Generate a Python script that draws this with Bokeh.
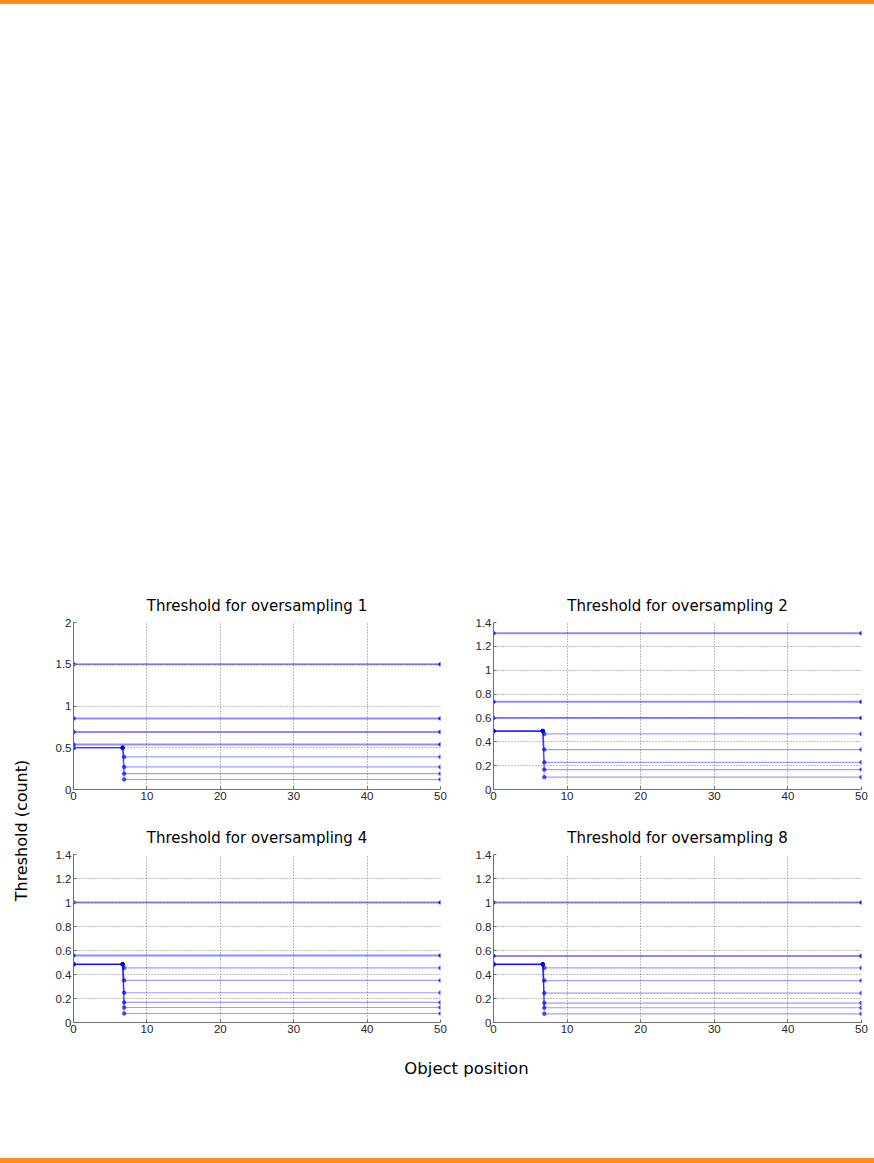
from bokeh.plotting import figure
from bokeh.models import Range1d, FixedTicker, Spacer, Label, Div
from bokeh.layouts import column, row
from bokeh.embed import file_html
from bokeh.resources import INLINE

# ---------------- data ----------------
titles = ["Threshold for oversampling 1", "Threshold for oversampling 2",
          "Threshold for oversampling 4", "Threshold for oversampling 8"]

x_first = 0
x_step_hi = 6.7
x_step_lo = 6.9
x_last = 50

# flat thresholds (constant from x=0 to x=50)
flat_1 = [1.5, 0.85, 0.69, 0.54]
flat_2 = [1.31, 0.735, 0.60]
flat_4 = [1.0, 0.558]
flat_8 = [1.0, 0.555]

# stepped thresholds: start level, then drop to low levels after x~7
step_top_1 = 0.50
step_low_1 = [0.39, 0.27, 0.19, 0.12]
step_top_2 = 0.49
step_low_2 = [0.466, 0.335, 0.228, 0.167, 0.103]
step_top_4 = 0.485
step_low_4 = [0.455, 0.351, 0.248, 0.167, 0.125, 0.075]
step_top_8 = 0.485
step_low_8 = [0.455, 0.349, 0.245, 0.162, 0.123, 0.072]

x_ticks = [0, 10, 20, 30, 40, 50]
y_ticks_a = [0, 0.5, 1, 1.5, 2]
y_labels_a = ["0", "0.5", "1", "1.5", "2"]
y_ticks_b = [0, 0.2, 0.4, 0.6, 0.8, 1, 1.2, 1.4]
y_labels_b = ["0", "0.2", "0.4", "0.6", "0.8", "1", "1.2", "1.4"]

LINE_COLOR = "#0000ff"
ORANGE = "#fd8b18"
TICK_FONT = "Liberation Sans"
TEXT_FONT = "DejaVu Sans"


def make_sub(title, flats, top, lows, yticks, ylabels, ymax,
             width, height, bl, br, bt, bb):
    p = figure(width=width, height=height,
               x_range=Range1d(0, 50), y_range=Range1d(0, ymax),
               output_backend="svg", toolbar_location=None,
               min_border_left=bl, min_border_right=br,
               min_border_top=bt, min_border_bottom=bb,
               title=title)
    p.outline_line_color = None
    p.background_fill_color = "white"
    p.border_fill_color = "white"

    p.title.text_font = TEXT_FONT
    p.title.text_font_size = "15px"
    p.title.text_font_style = "normal"
    p.title.align = "center"
    p.title.text_color = "#000000"
    p.title.standoff = 15

    for ax in (p.xaxis[0], p.yaxis[0]):
        ax.axis_line_color = "#6f6f6f"
        ax.major_tick_line_color = "#6f6f6f"
        ax.major_tick_in = 3
        ax.major_tick_out = 0
        ax.minor_tick_line_color = None
        ax.major_label_text_font = TICK_FONT
        ax.major_label_text_font_size = "11.5px"
        ax.major_label_text_color = "#262626"
        ax.major_label_standoff = 2
    p.xaxis.ticker = FixedTicker(ticks=x_ticks)
    p.yaxis.ticker = FixedTicker(ticks=yticks)
    p.yaxis.major_label_overrides = {t: l for t, l in zip(yticks, ylabels)}
    p.xaxis.major_label_overrides = {t: str(t) for t in x_ticks}

    p.xgrid.ticker = FixedTicker(ticks=x_ticks)
    p.ygrid.ticker = FixedTicker(ticks=yticks)
    for g in (p.xgrid[0], p.ygrid[0]):
        g.grid_line_color = "#7a7a7a"
        g.grid_line_dash = "1 2"
        g.grid_line_width = 1

    # flat series
    for v in flats:
        xs = [x_first, x_last]
        ys = [v, v]
        p.line(xs, ys, line_color=LINE_COLOR, line_alpha=0.45, line_width=2)
        p.scatter(xs, ys, size=3.5, color=LINE_COLOR, alpha=0.75)
    # stepped series
    for v in lows:
        xs = [x_first, x_step_hi, x_step_lo, x_last]
        ys = [top, top, v, v]
        p.line(xs, ys, line_color=LINE_COLOR, line_alpha=0.38, line_width=1.2)
        p.scatter(xs, ys, size=3.5, color=LINE_COLOR, alpha=0.6)
    return p


LW = 48
W1, W2 = 402, 424
H1, H2 = 232, 238

sp1 = make_sub(titles[0], flat_1, step_top_1, step_low_1, y_ticks_a, y_labels_a, 2,
               W1, H1, 25, 10, 40, 25)
sp2 = make_sub(titles[1], flat_2, step_top_2, step_low_2, y_ticks_b, y_labels_b, 1.4,
               W2, H1, 43, 13, 40, 25)
sp3 = make_sub(titles[2], flat_4, step_top_4, step_low_4, y_ticks_b, y_labels_b, 1.4,
               W1, H2, 25, 10, 40, 30)
sp4 = make_sub(titles[3], flat_8, step_top_8, step_low_8, y_ticks_b, y_labels_b, 1.4,
               W2, H2, 43, 13, 40, 30)


def blank_fig(w, h, fill="white"):
    f = figure(width=w, height=h, x_range=Range1d(0, w), y_range=Range1d(0, h),
               output_backend="svg", toolbar_location=None,
               min_border=0, min_border_left=0, min_border_right=0,
               min_border_top=0, min_border_bottom=0)
    f.axis.visible = False
    f.grid.visible = False
    f.outline_line_color = None
    f.background_fill_color = fill
    f.border_fill_color = fill
    return f


ylab = blank_fig(LW, H1 + H2)
ylab.add_layout(Label(x=21, y=H1 + H2 - 248, text="Threshold (count)", angle=90,
                      angle_units="deg", text_align="center", text_baseline="middle",
                      text_font=TEXT_FONT, text_font_size="16px", text_color="#000000"))

xlab = blank_fig(874, 40)
xlab.add_layout(Label(x=466, y=24, text="Object position", text_align="center",
                      text_baseline="middle", text_font=TEXT_FONT,
                      text_font_size="16.5px", text_color="#000000"))

bar_top = Div(width=874, height=4, margin=0, styles={"background-color": ORANGE})
bar_bot = Div(width=874, height=5, margin=0, styles={"background-color": ORANGE})

grid = column(row(sp1, sp2), row(sp3, sp4))
layout = column(bar_top, Spacer(width=874, height=578), row(ylab, grid), xlab,
                Spacer(width=874, height=66), bar_bot)

open("out.html", "w").write(file_html(layout, INLINE))
